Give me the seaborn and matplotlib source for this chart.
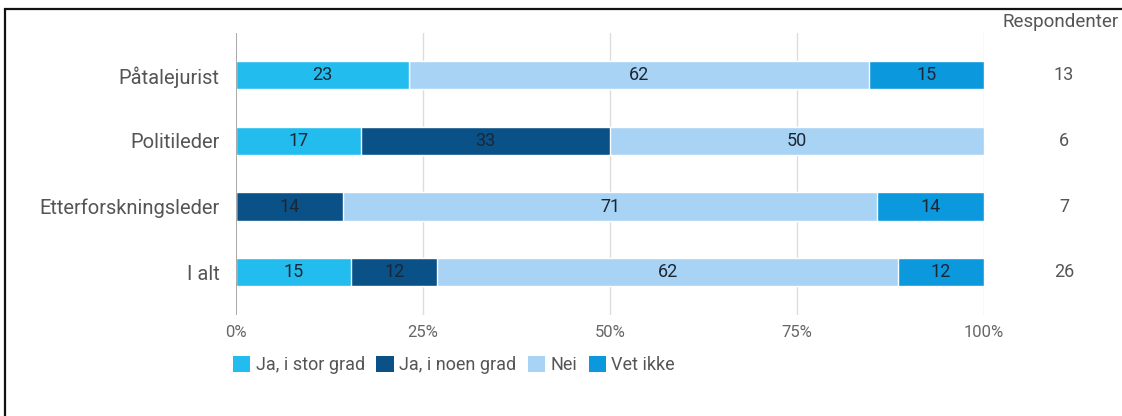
import matplotlib
matplotlib.use("Agg")
import matplotlib.pyplot as plt
import matplotlib.transforms as mtransforms
from matplotlib.patches import Patch, Rectangle
import pandas as pd
import seaborn as sns

# Survey answers: number of respondents in each group giving each answer
groups = ["Påtalejurist", "Politileder", "Etterforskningsleder", "I alt"]
answers = ["Ja, i stor grad", "Ja, i noen grad", "Nei", "Vet ikke"]
ja_stor = [3, 1, 0, 4]
ja_noen = [0, 2, 1, 3]
nei = [8, 3, 5, 16]
vet_ikke = [2, 0, 1, 3]
respondents = [13, 6, 7, 26]
x_ticks = [0, 25, 50, 75, 100]
x_tick_labels = ["0%", "25%", "50%", "75%", "100%"]

colors = ["#22BDEE", "#0A5187", "#A8D3F4", "#0B98DC"]

sns.set_theme(style="white")
plt.rcParams["font.family"] = ["Roboto", "DejaVu Sans"]

counts = pd.DataFrame(
    {answers[0]: ja_stor, answers[1]: ja_noen, answers[2]: nei, answers[3]: vet_ikke},
    index=groups,
)
shares = counts.div(respondents, axis=0) * 100
cum = shares.cumsum(axis=1)

fig = plt.figure(figsize=(11.22, 4.16), dpi=100)
ax = fig.add_axes([236 / 1122, 1 - 315 / 416, (984 - 236) / 1122, (315 - 33) / 416])

# Stacked bars: draw cumulative totals from the outermost segment inwards
for i in range(len(answers) - 1, -1, -1):
    df = pd.DataFrame({"group": groups, "value": cum[answers[i]].values})
    sns.barplot(data=df, y="group", x="value", color=colors[i], width=0.43,
                saturation=1, ax=ax, order=groups)

# Segment labels
for r, g in enumerate(groups):
    start = 0.0
    for a in answers:
        v = shares.loc[g, a]
        if v > 0:
            ax.text(start + v / 2, r, f"{round(v):d}", ha="center", va="center",
                    fontsize=13, color="#1b2735", zorder=5)
        start += v

ax.set_xlim(0, 100)
ax.set_ylim(3.65, -0.64)
ax.set_xlabel("")
ax.set_ylabel("")
ax.set_xticks(x_ticks)
ax.set_xticklabels(x_tick_labels, color="#666666", fontsize=12)
ax.tick_params(axis="x", length=0, pad=7)
ax.tick_params(axis="y", length=0, pad=12, labelsize=14.5, labelcolor="#555555")
for s in ax.spines.values():
    s.set_visible(False)
for xv in x_ticks[1:]:
    ax.axvline(xv, color="#dcdcdc", lw=1, zorder=0)
ax.axvline(0, color="#9a9a9a", lw=1.2, zorder=6)

# Respondent counts column
fig.text(1003 / 1122, 1 - 22 / 416, "Respondenter", ha="left", va="center",
         fontsize=13.5, color="#555555")
col_tr = mtransforms.blended_transform_factory(fig.transFigure, ax.transData)
for r, n in enumerate(respondents):
    ax.text(1064 / 1122, r, str(n), transform=col_tr, clip_on=False,
            ha="center", va="center", fontsize=13, color="#555555")

handles = [Patch(facecolor=c, edgecolor="none") for c in colors]
fig.legend(handles, answers, loc="center left", bbox_to_anchor=(233 / 1122, 1 - 365 / 416),
           ncol=4, frameon=False, fontsize=13, handlelength=0.95, handleheight=1.0,
           handletextpad=0.3, columnspacing=0.65, borderaxespad=0, borderpad=0,
           labelcolor="#555555")

# Outer frame
fig.add_artist(Rectangle((5 / 1122, -0.2), 1.5, 1 - 9 / 416 + 0.2, fill=False,
                         edgecolor="#111111", lw=1.6, transform=fig.transFigure,
                         clip_on=False))

fig.savefig("out.png", dpi=100)
